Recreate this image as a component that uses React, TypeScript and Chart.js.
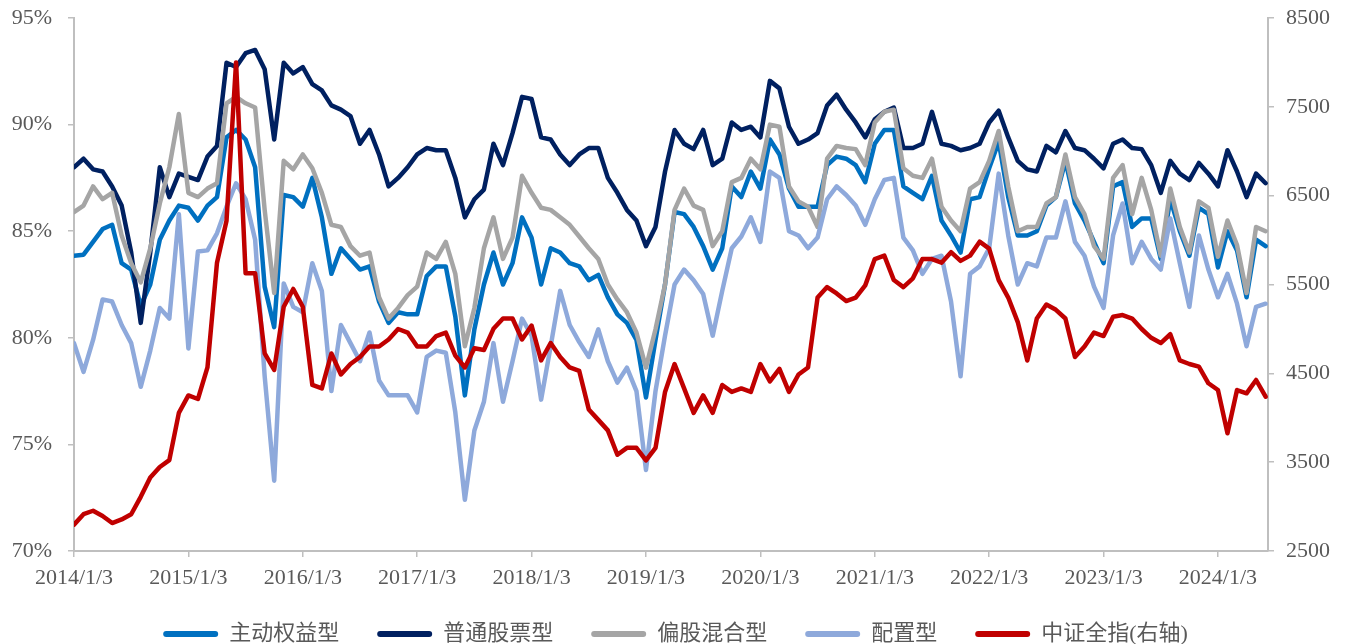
import { useEffect, useRef } from 'react';
import { Chart, registerables } from 'chart.js';

Chart.register(...registerables);

// Monthly samples from 2014/1/3 (index 0) onward; one value per month.
const yearTicks = [2014, 2015, 2016, 2017, 2018, 2019, 2020, 2021, 2022, 2023, 2024];

const activeEquity = [
  83.85, 83.9, 84.5, 85.1, 85.3, 83.5, 83.2, 81.5, 82.5, 84.6, 85.5, 86.2,
  86.1, 85.5, 86.2, 86.6, 89.4, 89.75, 89.3, 88.0, 82.4, 80.5, 86.7, 86.6,
  86.15, 87.5, 85.65, 83.0, 84.2, 83.7, 83.2, 83.35, 81.7, 80.7, 81.2, 81.1,
  81.1, 82.9, 83.35, 83.35, 81.0, 77.3, 80.4, 82.5, 84.0, 82.5, 83.5, 85.65,
  84.7, 82.5, 84.2, 84.0, 83.5, 83.35, 82.7, 82.95, 81.9, 81.1, 80.7, 79.9,
  77.2, 79.9, 82.5, 85.9, 85.8, 85.2, 84.3, 83.2, 84.2, 87.1, 86.6, 87.8,
  87.0, 89.3, 88.6, 87.0, 86.15, 86.15, 86.15, 88.1, 88.5, 88.4, 88.1, 87.3,
  89.1, 89.75, 89.75, 87.1, 86.8, 86.5, 87.6, 85.5, 84.8, 84.0, 86.5, 86.6,
  87.95, 89.2, 86.6, 84.8, 84.8, 85.0, 86.2, 86.6, 88.3, 86.3, 85.5, 84.5,
  83.5, 87.1, 87.3, 85.2, 85.6, 85.6, 83.7, 86.5, 85.0, 83.85, 86.1, 85.8,
  83.3, 85.0, 84.1, 81.9, 84.6, 84.3,
];

const commonStock = [
  88.0, 88.4, 87.9, 87.8, 87.1, 86.2, 84.0, 80.7, 84.0, 88.0, 86.6, 87.7,
  87.55, 87.4, 88.5, 89.0, 92.9, 92.7, 93.35, 93.5, 92.6, 89.3, 92.9, 92.4,
  92.7, 91.9, 91.6, 90.9, 90.7, 90.4, 89.1, 89.75, 88.6, 87.1, 87.5, 88.0,
  88.6, 88.9, 88.8, 88.8, 87.5, 85.65, 86.5, 86.95, 89.1, 88.1, 89.6, 91.3,
  91.2, 89.4, 89.3, 88.6, 88.1, 88.6, 88.9, 88.9, 87.5, 86.8, 86.0, 85.5,
  84.3, 85.2, 87.8, 89.75, 89.1, 88.85, 89.75, 88.1, 88.4, 90.1, 89.75, 89.9,
  89.4, 92.05, 91.7, 89.9, 89.1, 89.3, 89.6, 90.9, 91.4, 90.7, 90.1, 89.4,
  90.25, 90.6, 90.8, 88.9, 88.9, 89.1, 90.6, 89.1, 89.0, 88.8, 88.9, 89.1,
  90.1, 90.65, 89.4, 88.3, 87.9, 87.8, 89.0, 88.7, 89.7, 88.9, 88.8, 88.4,
  87.95, 89.1, 89.3, 88.9, 88.85, 88.1, 86.8, 88.3, 87.7, 87.4, 88.2, 87.7,
  87.1, 88.8, 87.8, 86.6, 87.7, 87.25,
];

const partialEquityHybrid = [
  85.9, 86.2, 87.1, 86.5, 86.8, 84.8, 83.5, 82.6, 84.2, 86.3, 88.0, 90.5,
  86.8, 86.6, 87.0, 87.25, 91.0, 91.3, 91.0, 90.8, 86.0, 82.1, 88.3, 87.9,
  88.6, 87.95, 86.8, 85.3, 85.2, 84.3, 83.85, 84.0, 81.9, 80.9, 81.4, 82.0,
  82.4, 84.0, 83.7, 84.5, 83.0, 79.6, 81.4, 84.2, 85.65, 83.7, 84.7, 87.6,
  86.8, 86.1, 86.0, 85.65, 85.3, 84.75, 84.2, 83.7, 82.5, 81.8, 81.2, 80.25,
  78.6, 80.4, 82.5, 86.0, 87.0, 86.2, 86.0, 84.3, 85.0, 87.3, 87.5, 88.4,
  87.9, 90.0, 89.9, 87.1, 86.4, 86.15, 85.2, 88.4, 89.0, 88.9, 88.85, 88.1,
  90.1, 90.6, 90.7, 87.95, 87.6, 87.5, 88.4, 86.15, 85.5, 85.0, 87.0, 87.3,
  88.3, 89.7, 87.1, 85.0, 85.2, 85.2, 86.3, 86.6, 88.6, 86.6, 85.8, 84.3,
  83.7, 87.5, 88.1, 85.8, 87.5, 86.0, 83.85, 87.0, 85.2, 84.0, 86.4, 86.1,
  83.8, 85.5, 84.35, 82.1, 85.2, 85.0,
];

const allocation = [
  79.75, 78.4, 79.9, 81.8, 81.7, 80.6, 79.75, 77.7, 79.4, 81.4, 80.9, 85.8,
  79.5, 84.05, 84.1, 84.9, 86.15, 87.25, 86.5, 84.6, 78.2, 73.3, 82.55, 81.45,
  81.2, 83.5, 82.2, 77.5, 80.6, 79.75, 78.9, 80.25, 78.0, 77.3, 77.3, 77.3,
  76.5, 79.1, 79.4, 79.3, 76.5, 72.4, 75.65, 77.0, 79.75, 77.0, 78.9, 80.9,
  80.1, 77.1, 79.6, 82.2, 80.6, 79.8, 79.1, 80.4, 78.9, 77.9, 78.6, 77.5,
  73.8, 77.5, 80.1, 82.5, 83.2, 82.7, 82.05, 80.1, 82.2, 84.2, 84.75, 85.65,
  84.5, 87.8, 87.5, 85.0, 84.8, 84.2, 84.7, 86.5, 87.1, 86.7, 86.2, 85.3,
  86.5, 87.4, 87.5, 84.7, 84.1, 83.0, 83.7, 83.85, 81.7, 78.2, 83.0, 83.35,
  84.2, 87.7, 84.8, 82.5, 83.5, 83.35, 84.7, 84.7, 86.4, 84.5, 83.85, 82.4,
  81.4, 84.8, 86.3, 83.5, 84.5, 83.7, 83.2, 85.6, 83.5, 81.45, 84.8, 83.2,
  81.9, 83.0, 81.6, 79.6, 81.45, 81.6,
];

const csiAllShare = [
  2796, 2914, 2953, 2894, 2815, 2855, 2914, 3110, 3327, 3445, 3523, 4055,
  4251, 4211, 4566, 5746, 6218, 8000, 5626, 5626, 4725, 4538, 5250, 5450,
  5250, 4369, 4330, 4723, 4487, 4605, 4684, 4802, 4802, 4881, 4999, 4959,
  4802, 4802, 4920, 4959, 4700, 4566, 4782, 4763, 5001, 5117, 5117, 4881,
  5038, 4645, 4841, 4684, 4566, 4527, 4094, 3976, 3858, 3583, 3661, 3661,
  3520, 3661, 4291, 4605, 4330, 4055, 4251, 4055, 4369, 4291, 4330, 4291,
  4605, 4409, 4550, 4291, 4487, 4566, 5353, 5471, 5400, 5314, 5353, 5490,
  5786, 5825, 5550, 5471, 5569, 5786, 5786, 5746, 5864, 5766, 5825, 5982,
  5904, 5550, 5353, 5077, 4645, 5117, 5274, 5215, 5117, 4684, 4802, 4959,
  4920, 5137, 5156, 5117, 4999, 4900, 4841, 4940, 4645, 4605, 4575, 4388,
  4312, 3825, 4312, 4275, 4425, 4237,
];

const leftTicks = [70, 75, 80, 85, 90, 95];
const rightTicks = [2500, 3500, 4500, 5500, 6500, 7500, 8500];

const seriesNames = ['主动权益型', '普通股票型', '偏股混合型', '配置型', '中证全指(右轴)'];
const seriesColors = ['#0070C0', '#002060', '#A5A5A5', '#8EA9DB', '#C00000'];

export default function App() {
  const ref = useRef<HTMLCanvasElement>(null);

  useEffect(() => {
    if (!ref.current) return;
    const toPts = (arr: number[]) => arr.map((y, i) => ({ x: i, y }));
    const family = '"Liberation Serif", "Noto Sans CJK SC", serif';
    const axisGray = '#BFBFBF';
    const textGray = '#595959';
    const allSeries = [activeEquity, commonStock, partialEquityHybrid, allocation, csiAllShare];

    const datasets = allSeries.map((arr, i) => ({
      label: seriesNames[i],
      data: toPts(arr),
      borderColor: seriesColors[i],
      backgroundColor: seriesColors[i],
      borderWidth: 4.5,
      pointRadius: 0,
      tension: 0,
      yAxisID: i === 4 ? 'y1' : 'y',
      order: 5 - i,
    }));

    const monthsPerYear = 12;
    const noPad = (s: any) => {
      s.paddingTop = 0;
      s.paddingBottom = 0;
    };

    const chart = new Chart(ref.current, {
      type: 'line',
      data: { datasets },
      options: {
        animation: false,
        responsive: false,
        maintainAspectRatio: false,
        layout: { padding: { top: 18, bottom: -11, left: 0, right: 0 } },
        elements: { line: { borderJoinStyle: 'round', borderCapStyle: 'round' } },
        plugins: {
          tooltip: { enabled: false },
          legend: {
            position: 'bottom',
            labels: {
              boxWidth: 55,
              boxHeight: 6,
              padding: 38,
              color: textGray,
              useBorderRadius: true,
              borderRadius: 3,
              font: { family, size: 22 },
              sort: (a: any, b: any) => a.datasetIndex - b.datasetIndex,
              generateLabels: (c: any) =>
                Chart.defaults.plugins.legend.labels
                  .generateLabels(c)
                  .map((it: any) => ({ ...it, fillStyle: it.strokeStyle, lineWidth: 0 })),
            },
          },
        },
        scales: {
          x: {
            type: 'linear',
            min: 0,
            max: 125.25,
            afterFit: (s: any) => {
              s.height = 34;
            },
            afterBuildTicks: (s: any) => {
              s.ticks = yearTicks.map((yr) => ({ value: (yr - 2014) * monthsPerYear }));
            },
            ticks: {
              autoSkip: false,
              maxRotation: 0,
              padding: 8,
              color: textGray,
              font: { family, size: 22 },
              callback: (v: any) => `${2014 + Number(v) / monthsPerYear}/1/3`,
            },
            grid: { drawOnChartArea: false, drawTicks: true, tickLength: 6, color: axisGray, lineWidth: 1.5 },
            border: { display: true, color: axisGray, width: 2 },
          },
          y: {
            position: 'left',
            min: 70,
            max: 95,
            afterFit: (s: any) => {
              s.width = 74;
              noPad(s);
            },
            afterBuildTicks: (s: any) => {
              s.ticks = leftTicks.map((v) => ({ value: v }));
            },
            ticks: {
              padding: 16,
              color: textGray,
              font: { family, size: 22 },
              callback: (v: any) => `${v}%`,
            },
            grid: { drawOnChartArea: false, drawTicks: true, tickLength: 6, color: axisGray, lineWidth: 1.5 },
            border: { display: true, color: axisGray, width: 2 },
          },
          y1: {
            position: 'right',
            min: 2500,
            max: 8500,
            afterFit: (s: any) => {
              s.width = 83;
              noPad(s);
            },
            afterBuildTicks: (s: any) => {
              s.ticks = rightTicks.map((v) => ({ value: v }));
            },
            ticks: {
              padding: 12,
              color: textGray,
              font: { family, size: 22 },
              callback: (v: any) => `${v}`,
            },
            grid: { drawOnChartArea: false, drawTicks: true, tickLength: 6, color: axisGray, lineWidth: 1.5 },
            border: { display: true, color: axisGray, width: 2 },
          },
        },
      },
    } as any);

    return () => chart.destroy();
  }, []);

  return (
    <div style={{ position: 'fixed', left: 0, top: 0, width: 1351, height: 644 }}>
      <canvas ref={ref} width={1351} height={644} style={{ display: 'block' }} />
    </div>
  );
}
